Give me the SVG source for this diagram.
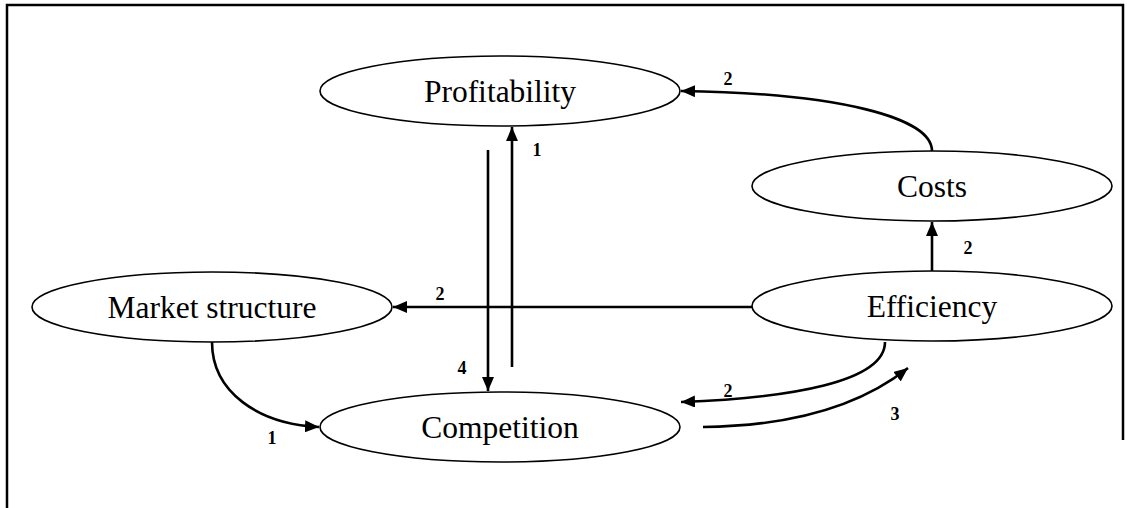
<svg xmlns="http://www.w3.org/2000/svg" width="1127" height="508" viewBox="0 0 1127 508">
<style>
.node ellipse{fill:#fff;stroke:#000;stroke-width:1.6}
.node text{font-family:"Liberation Serif","Times New Roman",serif;font-size:31.5px;text-anchor:middle;fill:#000}
.edges path{fill:none;stroke:#000;stroke-width:2.6}
.lbl{font-family:"Liberation Serif","Times New Roman",serif;font-size:18px;font-weight:bold;text-anchor:middle;fill:#000}
.frame{fill:none;stroke:#000;stroke-width:2.5}
</style>
<defs>
<marker id="ah" viewBox="0 0 14 12" refX="14" refY="6" markerWidth="14" markerHeight="12" markerUnits="userSpaceOnUse" orient="auto">
<path d="M0,0 L14,6 L0,12 Z" fill="#000"/>
</marker>
</defs>
<rect width="1127" height="508" fill="#fff"/>
<path class="frame" d="M7,508 L7,5 L1123,5 L1123,440"/>
<g class="edges">
<path d="M488,150 L488,391" marker-end="url(#ah)"/>
<path d="M512,367 L512,127" marker-end="url(#ah)"/>
<path d="M932,151 C932,118 840,93 681,91" marker-end="url(#ah)"/>
<path d="M932,271 L932,222" marker-end="url(#ah)"/>
<path d="M752,307 L393,307" marker-end="url(#ah)"/>
<path d="M212,342 C212,392 258,424 319,427" marker-end="url(#ah)"/>
<path d="M885,342 C885,382 790,398 681,402" marker-end="url(#ah)"/>
<path d="M703,427 C790,426 860,406 908,368" marker-end="url(#ah)"/>
</g>
<g id="profitability" class="node"><ellipse cx="500" cy="91" rx="180" ry="35"/><text x="500" y="102">Profitability</text></g>
<g id="costs" class="node"><ellipse cx="932" cy="186" rx="180" ry="35"/><text x="932" y="197">Costs</text></g>
<g id="efficiency" class="node"><ellipse cx="932" cy="306" rx="180" ry="35"/><text x="932" y="317">Efficiency</text></g>
<g id="market-structure" class="node"><ellipse cx="212" cy="307" rx="180" ry="35"/><text x="212" y="318">Market structure</text></g>
<g id="competition" class="node"><ellipse cx="500" cy="427" rx="180" ry="35"/><text x="500" y="438">Competition</text></g>
<g class="labels">
<text class="lbl" x="728" y="85">2</text>
<text class="lbl" x="537" y="156">1</text>
<text class="lbl" x="968" y="254">2</text>
<text class="lbl" x="440" y="300">2</text>
<text class="lbl" x="462" y="374">4</text>
<text class="lbl" x="272" y="444">1</text>
<text class="lbl" x="728" y="397">2</text>
<text class="lbl" x="895" y="420">3</text>
</g>
</svg>
